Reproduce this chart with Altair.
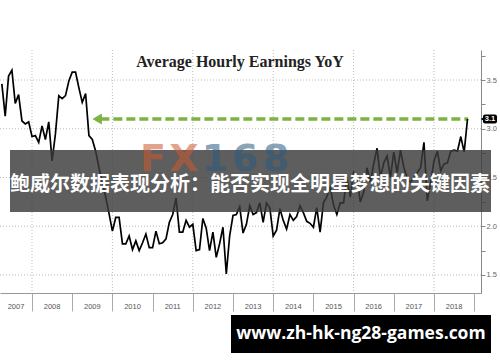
import altair as alt
import pandas as pd

# ---- data (Average Hourly Earnings YoY, %, month-end points) ----
y2007 = [3.46, 3.13, 3.54, 3.60, 3.26, 3.35, 3.08, 3.05, 3.07, 2.92]  # Mar-Dec
y2008 = [2.93, 2.86, 3.03, 2.89, 3.07, 2.67, 2.95, 3.34, 3.31, 3.34, 3.49, 3.58]
y2009 = [3.58, 3.42, 3.27, 3.36, 2.93, 2.89, 2.77, 2.60, 2.45, 2.30, 2.13, 1.95]
y2010 = [2.09, 2.09, 1.82, 1.82, 1.90, 1.76, 1.85, 1.75, 1.83, 1.92, 1.78, 1.78]
y2011 = [1.95, 1.82, 1.83, 1.87, 2.04, 2.12, 2.29, 1.94, 1.94, 2.06, 1.99, 2.02]
y2012 = [1.75, 1.76, 2.08, 1.98, 1.75, 1.94, 1.68, 1.82, 1.99, 1.51, 1.90, 2.11]
y2013 = [2.12, 2.20, 1.93, 2.02, 2.21, 2.12, 2.14, 2.24, 2.04, 2.24, 2.19, 1.90]
y2014 = [1.96, 2.18, 2.06, 1.97, 2.12, 2.06, 2.10, 2.21, 2.14, 2.05, 2.03, 1.99]
y2015 = [2.19, 1.94, 2.24, 2.30, 2.40, 2.22, 2.12, 2.24, 2.24, 2.50, 2.30, 2.55]
y2016 = [2.50, 2.25, 2.35, 2.60, 2.45, 2.64, 2.80, 2.50, 2.65, 2.72, 2.50, 2.76]
y2017 = [2.55, 2.78, 2.60, 2.50, 2.45, 2.50, 2.55, 2.60, 2.86, 2.26, 2.45, 2.67]
y2018 = [2.77, 2.57, 2.64, 2.65, 2.77, 2.78, 2.77, 2.92, 2.76, 3.10]  # Jan-Oct

years_data = [(2007, y2007, 3), (2008, y2008, 1), (2009, y2009, 1), (2010, y2010, 1),
              (2011, y2011, 1), (2012, y2012, 1), (2013, y2013, 1), (2014, y2014, 1),
              (2015, y2015, 1), (2016, y2016, 1), (2017, y2017, 1), (2018, y2018, 1)]

year_labels = list(range(2007, 2019))
year_ticks = list(range(2008, 2020))
grid_years = [2008, 2010, 2012, 2014, 2016, 2018]
grid_values = [1.5, 2.0, 2.5, 3.0, 3.5]
axis_values = [1.5, 1.75, 2.0, 2.25, 2.5, 2.75, 3.0, 3.25, 3.5, 3.75]
last_value = 3.1
arrow_from = 2009.70
arrow_head = 2009.62
arrow_to = 2018.85

title_text = "Average Hourly Earnings YoY"
banner_text = "鲍威尔数据表现分析：能否实现全明星梦想的关键因素"
footer_text = "www.zh-hk-ng28-games.com"
wm_chars = ["F", "X", "1", "6", "8"]
wm_colors = ["#cd592d", "#cd592d", "#2a5a80", "#2a5a80", "#2a5a80"]

XMIN, XMAX = 2007.204, 2019.169
YMIN, YMAX = 1.315, 3.808
W, H = 481, 243

rows = []
for yr, vals, start in years_data:
    for i, v in enumerate(vals):
        rows.append({"x": yr + (start + i) / 12.0, "y": v})
line_df = pd.DataFrame(rows)

xscale = alt.Scale(domain=[XMIN, XMAX], nice=False, zero=False)
yscale = alt.Scale(domain=[YMIN, YMAX], nice=False, zero=False)
xaxis = alt.Axis(values=year_ticks, labels=False, tickSize=18, tickColor="#aaaaaa",
                 domainColor="#999999", grid=False, title=None, orient="bottom")
yaxis = alt.Axis(orient="right", values=axis_values,
                 labelExpr="(datum.value * 4) % 2 == 0 ? format(datum.value, '.1f') : ''",
                 tickSize=4, labelFontSize=7.5, labelColor="#666666", labelPadding=1,
                 labelFont="Liberation Sans", tickColor="#888888", domainColor="#888888",
                 grid=False, title=None)


def X(f="x"):
    return alt.X(f, type="quantitative", scale=xscale, axis=xaxis, title=None)


def Y(f="y"):
    return alt.Y(f, type="quantitative", scale=yscale, axis=yaxis, title=None)


hgrid = alt.Chart(pd.DataFrame({"y": grid_values})).mark_rule(
    color="#bbbbbb", strokeDash=[1, 2], strokeWidth=1).encode(y=Y())
vgrid = alt.Chart(pd.DataFrame({"x": grid_years})).mark_rule(
    color="#bbbbbb", strokeDash=[1, 2], strokeWidth=1).encode(x=X())

line = alt.Chart(line_df).mark_line(color="#000000", strokeWidth=1.7).encode(x=X(), y=Y())

green = "#7cb342"
arrow = alt.Chart(pd.DataFrame({"x": [arrow_from], "x2": [arrow_to], "y": [last_value]})).mark_rule(
    color=green, strokeDash=[9, 4], strokeWidth=3.3).encode(x=X(), x2="x2", y=Y())
head = alt.Chart(pd.DataFrame({"x": [arrow_head], "y": [last_value]})).mark_point(
    shape="triangle-left", filled=True, size=120, color=green, opacity=1).encode(x=X(), y=Y())

box_df = pd.DataFrame({"y": [last_value + 0.046], "y2": [last_value - 0.046], "t": ["3.1"], "m": [last_value]})
box = alt.Chart(box_df).mark_rect(color="#000000", cornerRadius=2).encode(
    x=alt.value(483), x2=alt.value(497), y=Y(), y2="y2")
pointer = alt.Chart(box_df).mark_point(shape="triangle-left", filled=True, size=18,
                                       color="#000000", opacity=1).encode(x=alt.value(482.5), y=Y("m"))
box_text = alt.Chart(box_df).mark_text(color="#ffffff", fontSize=7.5, fontWeight="bold",
                                       font="Liberation Sans", align="center", baseline="middle").encode(
    x=alt.value(490), y=Y("m"), text="t:N")

title = alt.Chart(pd.DataFrame({"t": [title_text]})).mark_text(
    font="Liberation Serif", fontSize=16, fontWeight="bold", color="#222222",
    align="center", baseline="alphabetic").encode(x=alt.value(240), y=alt.value(17), text="t:N")

lab_pos = [((XMIN + 2008) / 2 if yv == 2007 else yv + 0.5) for yv in year_labels]
ylab = alt.Chart(pd.DataFrame({"x": lab_pos, "t": [str(v) for v in year_labels]})).mark_text(
    font="Liberation Sans", fontSize=7.5, color="#555555", baseline="middle").encode(
    x=X(), y=alt.value(H + 14), text="t:N")

banner = alt.Chart(pd.DataFrame({"a": [0]})).mark_rect(color="#3a3a3a", opacity=0.82).encode(
    x=alt.value(10), x2=alt.value(491), y=alt.value(100), y2=alt.value(162))

wm_df = pd.DataFrame({"c": wm_chars, "col": wm_colors, "px": [153, 184, 215, 245, 276]})
watermark = alt.Chart(wm_df).mark_text(font="DejaVu Sans", fontSize=38, fontWeight="bold",
                                      opacity=0.55, baseline="alphabetic", align="center").encode(
    x=alt.X("px:Q", scale=None), y=alt.value(121), text="c:N",
    color=alt.Color("col:N", scale=None))

btext = alt.Chart(pd.DataFrame({"t": [banner_text]})).mark_text(
    font="Noto Sans CJK SC", fontSize=20, fontWeight="bold", color="#ffffff",
    align="center", baseline="middle").encode(x=alt.value(250), y=alt.value(135), text="t:N")

footer = alt.Chart(pd.DataFrame({"a": [0]})).mark_rect(color="#000000").encode(
    x=alt.value(231), x2=alt.value(491), y=alt.value(265), y2=alt.value(303))
ftext = alt.Chart(pd.DataFrame({"t": [footer_text]})).mark_text(
    font="Open Sans", fontSize=17.5, fontWeight="bold", color="#ffffff",
    align="center", baseline="middle").encode(x=alt.value(361), y=alt.value(284), text="t:N")

chart = alt.layer(hgrid, vgrid, arrow, head, line, box, pointer, box_text, title, ylab,
                  banner, watermark, btext, footer, ftext).properties(
    width=W, height=H,
    autosize=alt.AutoSizeParams(type="none"),
    padding={"left": 0, "top": 50, "right": 19, "bottom": 69},
    background="#ffffff",
).configure_view(strokeWidth=0)

chart.save("out.html", embed_options={"renderer": "svg", "actions": False})
